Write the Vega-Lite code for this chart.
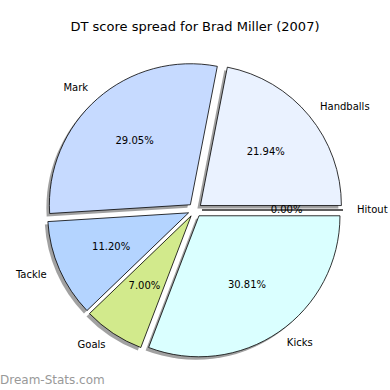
{
  "$schema": "https://vega.github.io/schema/vega-lite/v6.json",
  "width": 390,
  "height": 340,
  "autosize": "none",
  "padding": {"top": 40, "left": 0, "right": 0, "bottom": 10},
  "background": "white",
  "config": {"view": {"stroke": null}},
  "title": {"text": "DT score spread for Brad Miller (2007)", "font": "DejaVu Sans", "fontSize": 13, "fontWeight": "normal", "color": "black", "offset": 6},
  "layer": [
    {
      "data": {"name": "slices", "values": [
        {"part": "Handballs", "value": 21.94, "idx": 1},
        {"part": "Mark", "value": 29.05, "idx": 2},
        {"part": "Tackle", "value": 11.20, "idx": 3},
        {"part": "Goals", "value": 7.00, "idx": 4},
        {"part": "Kicks", "value": 30.81, "idx": 5},
        {"part": "Hitout", "value": 0.00, "idx": 6}
      ]},
      "transform": [
        {"stack": "value", "groupby": [], "sort": [{"field": "idx"}], "as": ["s", "e"]},
        {"calculate": "(datum.s + datum.e) / 2", "as": "m"}
      ],
      "layer": [
        {
          "mark": {"type": "arc", "outerRadius": 141, "fill": "#444444", "opacity": 0.5,
            "xOffset": {"expr": "7*cos(PI*(datum.s+datum.e)/100) - 3"},
            "yOffset": {"expr": "-7*sin(PI*(datum.s+datum.e)/100) + 3"}},
          "encoding": {
            "theta": {"field": "s", "type": "quantitative", "stack": null, "scale": {"domain": [0, 100], "range": [1.5707963, -4.712389]}},
            "theta2": {"field": "e"}
          }
        },
        {
          "mark": {"type": "arc", "outerRadius": 141, "stroke": "black", "strokeWidth": 0.8,
            "xOffset": {"expr": "7*cos(PI*(datum.s+datum.e)/100)"},
            "yOffset": {"expr": "-7*sin(PI*(datum.s+datum.e)/100)"}},
          "encoding": {
            "theta": {"field": "s", "type": "quantitative", "stack": null, "scale": {"domain": [0, 100], "range": [1.5707963, -4.712389]}},
            "theta2": {"field": "e"},
            "color": {"field": "part", "type": "nominal", "legend": null,
              "scale": {"domain": ["Handballs", "Mark", "Tackle", "Goals", "Kicks", "Hitout"],
                        "range": ["#eaf2ff", "#c6daff", "#b4d4ff", "#d2ea8c", "#daffff", "#ffffff"]}}
          }
        },
        {
          "mark": {"type": "text", "radius": 84.6, "font": "DejaVu Sans", "fontSize": 10, "color": "black",
            "align": "center", "baseline": "middle",
            "xOffset": {"expr": "7*cos(PI*(datum.s+datum.e)/100)"},
            "yOffset": {"expr": "-7*sin(PI*(datum.s+datum.e)/100)"},
            "text": {"expr": "format(datum.value, '.2f') + '%'"}},
          "encoding": {
            "theta": {"field": "m", "type": "quantitative", "stack": null, "scale": {"domain": [0, 100], "range": [1.5707963, -4.712389]}}
          }
        },
        {
          "mark": {"type": "text", "radius": 155, "font": "DejaVu Sans", "fontSize": 10, "color": "black",
            "baseline": "middle",
            "align": {"expr": "cos(PI*(datum.s+datum.e)/100) >= 0 ? 'left' : 'right'"},
            "xOffset": {"expr": "7*cos(PI*(datum.s+datum.e)/100)"},
            "yOffset": {"expr": "-7*sin(PI*(datum.s+datum.e)/100)"}},
          "encoding": {
            "theta": {"field": "m", "type": "quantitative", "stack": null, "scale": {"domain": [0, 100], "range": [1.5707963, -4.712389]}},
            "text": {"field": "part"}
          }
        }
      ]
    },
    {
      "data": {"values": [{"t": "Dream-Stats.com"}]},
      "mark": {"type": "text", "x": 0, "y": {"expr": "height"}, "align": "left", "baseline": "middle",
        "font": "DejaVu Sans", "fontSize": 12, "fontWeight": "normal", "color": "#999999"},
      "encoding": {"text": {"field": "t"}}
    }
  ]
}
